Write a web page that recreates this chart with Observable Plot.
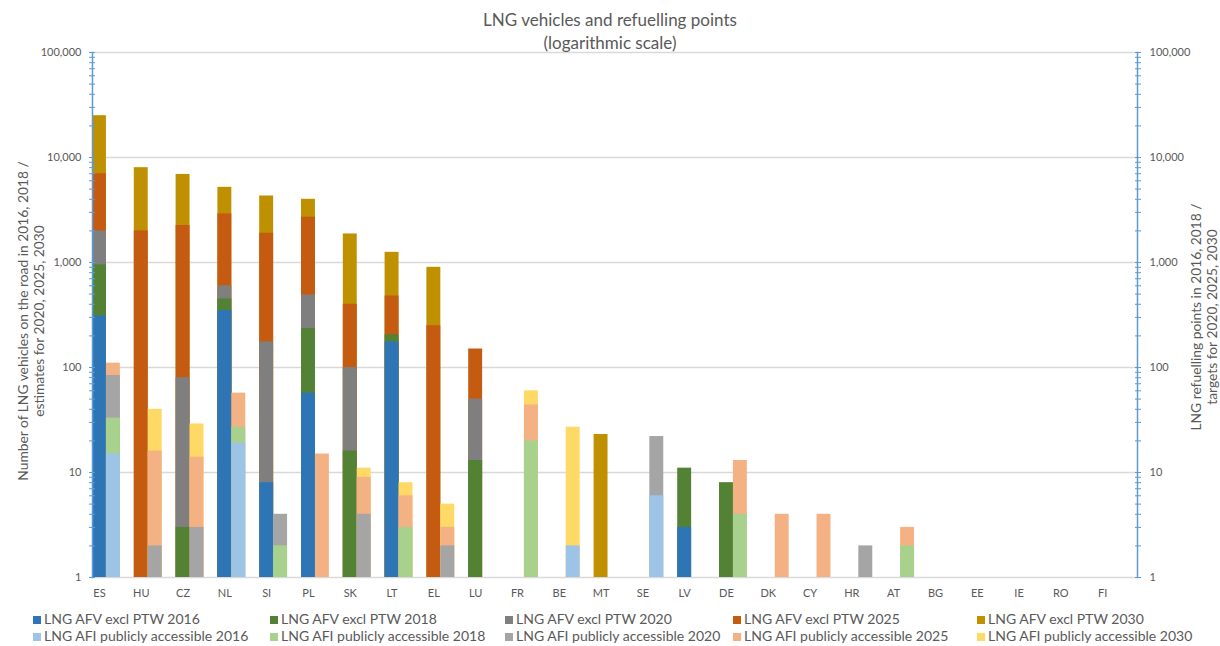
<!DOCTYPE html>
<html>
<head>
<meta charset="utf-8">
<script src="https://cdn.jsdelivr.net/npm/d3@7"></script>
<script src="https://cdn.jsdelivr.net/npm/@observablehq/plot@0.6"></script>
<style>
  body { margin: 0; background: #fff; font-family: Lato, "Open Sans", sans-serif; }
  #wrap { position: relative; width: 1220px; height: 646px; overflow: hidden; }
  #title { position: absolute; left: 0; top: 8px; width: 1220px; text-align: center; color: #595959; font-size: 17px; line-height: 23px; }
  #chart { position: absolute; left: 0; top: 0; }
  .leg { position: absolute; font-size: 14px; color: #595959; white-space: nowrap; line-height: 16px; }
  .leg i { display: inline-block; width: 8px; height: 8px; margin-right: 3px; vertical-align: 0px; }
</style>
</head>
<body>
<div id="wrap">
  <div id="chart"></div>
  <div id="title">LNG vehicles and refuelling points<br>(logarithmic scale)</div>
  <div id="legend"></div>
</div>
<script>
const countries = ["ES","HU","CZ","NL","SI","PL","SK","LT","EL","LU","FR","BE","MT","SE","LV","DE","DK","CY","HR","AT","BG","EE","IE","RO","FI"];

// Vehicles (AFV excl PTW)
const afv2016 = [310,null,null,350,8,57,null,175,null,null,null,null,null,null,3,null,null,null,null,null,null,null,null,null,null];
const afv2018 = [950,null,3,450,null,235,16,205,null,13,null,null,null,null,11,8,null,null,null,null,null,null,null,null,null];
const afv2020 = [2000,null,80,600,175,490,100,null,null,50,null,null,null,null,null,null,null,null,null,null,null,null,null,null,null];
const afv2025 = [7000,2000,2250,2900,1900,2700,400,480,250,150,null,null,null,null,null,null,null,null,null,null,null,null,null,null,null];
const afv2030 = [25000,8000,6900,5200,4300,4000,1870,1250,900,null,null,null,23,null,null,null,null,null,null,null,null,null,null,null,null];

// Refuelling points (AFI publicly accessible)
const afi2016 = [15,null,null,19,null,null,null,null,null,null,null,2,null,6,null,null,null,null,null,null,null,null,null,null,null];
const afi2018 = [33,null,null,27,2,null,null,3,null,null,20,null,null,null,null,4,null,null,null,2,null,null,null,null,null];
const afi2020 = [84,2,3,null,4,null,4,null,2,null,null,null,null,22,null,null,null,null,2,null,null,null,null,null,null];
const afi2025 = [110,16,14,57,null,15,9,6,3,null,44,null,null,null,null,13,4,4,null,3,null,null,null,null,null];
const afi2030 = [null,40,29,null,null,null,11,8,5,null,60,27,null,null,null,null,null,null,null,null,null,null,null,null,null];

const seriesLabels = [
  "LNG AFV excl PTW 2016","LNG AFV excl PTW 2018","LNG AFV excl PTW 2020","LNG AFV excl PTW 2025","LNG AFV excl PTW 2030",
  "LNG AFI publicly accessible 2016","LNG AFI publicly accessible 2018","LNG AFI publicly accessible 2020","LNG AFI publicly accessible 2025","LNG AFI publicly accessible 2030"
];
const seriesColors = ["#2E75B6","#548235","#7F7F7F","#C55A11","#BF9000","#9DC3E6","#A9D18E","#A5A5A5","#F4B183","#FFD966"];
const seriesValues = [afv2016,afv2018,afv2020,afv2025,afv2030,afi2016,afi2018,afi2020,afi2025,afi2030];
const seriesKind = ["veh","veh","veh","veh","veh","ref","ref","ref","ref","ref"];

const yTicks = [1,10,100,1000,10000,100000];
const minorTicks = [];
for (let d = 1; d < 100000; d *= 10) for (let k = 1; k < 10; k++) minorTicks.push(d * k);
minorTicks.push(100000);

const slots = countries.flatMap(c => [c + "|veh", c + "|ref", c + "|gap"]);
const rows = [];
seriesValues.forEach((vals, s) => vals.forEach((v, i) => {
  if (v != null) rows.push({slot: countries[i] + "|" + seriesKind[s], value: v, series: seriesLabels[s]});
}));
rows.sort((a, b) => b.value - a.value);

const fmt = d3.format(",");
const plot = Plot.plot({
  width: 1220, height: 600,
  marginLeft: 92, marginRight: 83, marginTop: 52, marginBottom: 23,
  style: {fontFamily: "Lato, 'Open Sans', sans-serif", fontSize: "11px", color: "#595959", background: "transparent"},
  x: {type: "band", domain: slots, paddingInner: 0, paddingOuter: 0, axis: null},
  y: {type: "log", domain: [1, 100000], axis: null},
  color: {domain: seriesLabels, range: seriesColors},
  marks: [
    Plot.ruleY(yTicks, {stroke: "#d9d9d9", strokeWidth: 1.5}),
    Plot.barY(rows, {x: "slot", y1: 1, y2: "value", fill: "series"}),
    Plot.axisX({ticks: countries.map(c => c + "|veh"), tickFormat: d => d.split("|")[0], tickSize: 0, tickPadding: 12, fill: "#595959", fontSize: 11, label: null}),
    Plot.frame({anchor: "left", stroke: "#5B9BD5", strokeWidth: 1.5}),
    Plot.frame({anchor: "right", stroke: "#5B9BD5", strokeWidth: 1.5}),
    Plot.axisY({anchor: "left", ticks: minorTicks, tickSize: 6, dx: 3, tickFormat: () => "", stroke: "#5B9BD5", label: null}),
    Plot.axisY({anchor: "right", ticks: minorTicks, tickSize: 6, dx: -3, tickFormat: () => "", stroke: "#5B9BD5", label: null}),
    Plot.axisY({anchor: "left", ticks: yTicks, tickSize: 0, tickPadding: 11, tickFormat: fmt, fill: "#595959", fontSize: 11, label: null}),
    Plot.axisY({anchor: "right", ticks: yTicks, tickSize: 0, tickPadding: 12, tickFormat: fmt, fill: "#595959", fontSize: 11, label: null}),
    Plot.text(["Number of LNG vehicles on the road in 2016, 2018 /\nestimates for 2020, 2025, 2030"], {
      frameAnchor: "left", dx: -62, dy: 6, rotate: -90, text: d => d, lineHeight: 1.2,
      fill: "#595959", fontSize: 13.8, textAnchor: "middle", lineAnchor: "middle"
    }),
    Plot.text(["LNG refuelling points in 2016, 2018 /\ntargets for 2020, 2025, 2030"], {
      frameAnchor: "right", dx: 66, dy: 2, rotate: -90, text: d => d, lineHeight: 1.2,
      fill: "#595959", fontSize: 13.8, textAnchor: "middle", lineAnchor: "middle"
    })
  ]
});
document.getElementById("chart").appendChild(plot);

// Legend
const legCols = [33, 270, 505, 733, 977];
const legend = document.getElementById("legend");
seriesLabels.forEach((lab, i) => {
  const d = document.createElement("div");
  d.className = "leg";
  d.style.left = legCols[i % 5] + "px";
  d.style.top = (i < 5 ? 611 : 628) + "px";
  d.innerHTML = `<i style="background:${seriesColors[i]}"></i>${lab}`;
  legend.appendChild(d);
});
</script>
</body>
</html>
